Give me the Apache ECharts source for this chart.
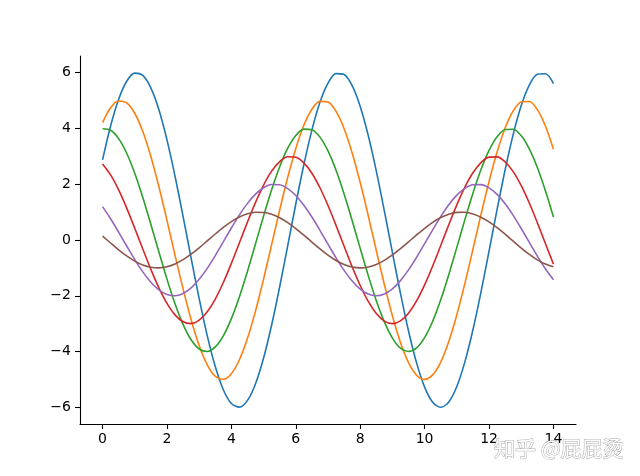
<!DOCTYPE html>
<html>
<head>
<meta charset="utf-8">
<script src="https://cdn.jsdelivr.net/npm/echarts@6/dist/echarts.min.js"></script>
<style>html,body{margin:0;padding:0;background:#fff;}#c{width:640px;height:476px;}</style>
</head>
<body>
<div id="c"></div>
<script>
const xs = [0,0.25,0.5,0.75,1,1.25,1.5,1.75,2,2.25,2.5,2.75,3,3.25,3.5,3.75,4,4.25,4.5,4.75,5,5.25,5.5,5.75,6,6.25,6.5,6.75,7,7.25,7.5,7.75,8,8.25,8.5,8.75,9,9.25,9.5,9.75,10,10.25,10.5,10.75,11,11.25,11.5,11.75,12,12.25,12.5,12.75,13,13.25,13.5,13.75,14];
const s1 = [2.876,4.090,5.049,5.694,5.985,5.904,5.456,4.669,3.591,2.290,0.847,-0.649,-2.105,-3.430,-4.541,-5.370,-5.865,-5.996,-5.753,-5.153,-4.233,-3.050,-1.676,-0.199,1.291,2.700,3.942,4.939,5.628,5.968,5.936,5.536,4.791,3.748,2.473,1.043,-0.451,-1.917,-3.264,-4.408,-5.278,-5.820,-6.000,-5.807,-5.253,-4.372,-3.220,-1.867,-0.398,1.096,2.521,3.790,4.823,5.556,5.944,5.962,5.609];
const s2 = [4.208,4.745,4.988,4.920,4.547,3.891,2.993,1.909,0.706,-0.541,-1.754,-2.858,-3.784,-4.475,-4.888,-4.997,-4.795,-4.295,-3.528,-2.542,-1.397,-0.166,1.076,2.250,3.285,4.116,4.690,4.973,4.947,4.613,3.993,3.124,2.061,0.870,-0.376,-1.598,-2.720,-3.674,-4.399,-4.850,-5.000,-4.839,-4.378,-3.644,-2.683,-1.556,-0.332,0.913,2.101,3.158,4.019,4.630,4.953,4.968,4.675,4.090,3.252];
const s3 = [3.990,3.936,3.637,3.112,2.394,1.527,0.564,-0.433,-1.403,-2.286,-3.027,-3.580,-3.910,-3.997,-3.836,-3.436,-2.822,-2.033,-1.118,-0.133,0.860,1.800,2.628,3.292,3.752,3.978,3.958,3.690,3.194,2.499,1.648,0.696,-0.301,-1.278,-2.176,-2.939,-3.519,-3.880,-4.000,-3.871,-3.502,-2.915,-2.146,-1.244,-0.265,0.730,1.681,2.526,3.215,3.704,3.962,3.974,3.740,3.272,2.601,1.768,0.826];
const s4 = [2.728,2.334,1.796,1.145,0.423,-0.325,-1.052,-1.715,-2.270,-2.685,-2.933,-2.998,-2.877,-2.577,-2.117,-1.525,-0.838,-0.100,0.645,1.350,1.971,2.469,2.814,2.984,2.968,2.768,2.396,1.874,1.236,0.522,-0.226,-0.959,-1.632,-2.204,-2.639,-2.910,-3.000,-2.903,-2.627,-2.186,-1.610,-0.933,-0.199,0.548,1.261,1.895,2.411,2.778,2.972,2.981,2.805,2.454,1.951,1.326,0.620,-0.126,-0.864];
const s5 = [1.197,0.763,0.282,-0.216,-0.702,-1.143,-1.514,-1.790,-1.955,-1.999,-1.918,-1.718,-1.411,-1.017,-0.559,-0.066,0.430,0.900,1.314,1.646,1.876,1.989,1.979,1.845,1.597,1.249,0.824,0.348,-0.150,-0.639,-1.088,-1.469,-1.759,-1.940,-2.000,-1.936,-1.751,-1.457,-1.073,-0.622,-0.133,0.365,0.840,1.263,1.608,1.852,1.981,1.987,1.870,1.636,1.301,0.884,0.413,-0.084,-0.576,-1.031,-1.424];
const s6 = [0.141,-0.108,-0.351,-0.572,-0.757,-0.895,-0.978,-0.999,-0.959,-0.859,-0.706,-0.508,-0.279,-0.033,0.215,0.450,0.657,0.823,0.938,0.995,0.989,0.923,0.799,0.625,0.412,0.174,-0.075,-0.320,-0.544,-0.735,-0.880,-0.970,-1.000,-0.968,-0.876,-0.729,-0.537,-0.311,-0.066,0.183,0.420,0.632,0.804,0.926,0.991,0.994,0.935,0.818,0.650,0.442,0.207,-0.042,-0.288,-0.516,-0.712,-0.863,-0.961];
const xTicks = [0,2,4,6,8,10,12,14];
const yTicks = [-6,-4,-2,0,2,4,6];
const colors = ['#1f77b4','#ff7f0e','#2ca02c','#d62728','#9467bd','#8c564b'];
const watermark = '知乎 @屁屁烫';

const allSeries = [s1,s2,s3,s4,s5,s6];
const chart = echarts.init(document.getElementById('c'), null, {renderer:'canvas'});
const font = 'DejaVu Sans';
const fmt = v => String(v).replace('-', '\u2212');
chart.setOption({
  animation: false,
  backgroundColor: '#fff',
  grid: {left: 80, right: 64, top: 56, bottom: 52, containLabel: false},
  xAxis: {
    type: 'value', min: -0.7, max: 14.7,
    splitLine: {show: false},
    axisLine: {show: true, onZero: false, lineStyle: {color: '#000', width: 1.1}},
    axisTick: {show: true, length: 5, customValues: xTicks, lineStyle: {color: '#000', width: 1.1}},
    axisLabel: {customValues: xTicks, color: '#000', fontFamily: font, fontSize: 14, margin: 8, formatter: fmt}
  },
  yAxis: {
    type: 'value', min: -6.6, max: 6.6,
    splitLine: {show: false},
    axisLine: {show: true, onZero: false, lineStyle: {color: '#000', width: 1.1}},
    axisTick: {show: true, length: 5, customValues: yTicks, lineStyle: {color: '#000', width: 1.1}},
    axisLabel: {customValues: yTicks, color: '#000', fontFamily: font, fontSize: 14, margin: 9, formatter: fmt}
  },
  series: allSeries.map((s, i) => ({
    type: 'line',
    data: xs.map((x, j) => [x, s[j]]),
    smooth: 0.3,
    showSymbol: false,
    lineStyle: {color: colors[i], width: 1.6},
    itemStyle: {color: colors[i]},
    z: 2 + i
  })),
  graphic: [{
    type: 'text', right: 16, top: 437, z: 100,
    style: {text: watermark, fill: '#fff', stroke: '#a8a8a8', lineWidth: 1, font: '21px "Noto Sans CJK SC"'}
  }]
});
</script>
</body>
</html>
